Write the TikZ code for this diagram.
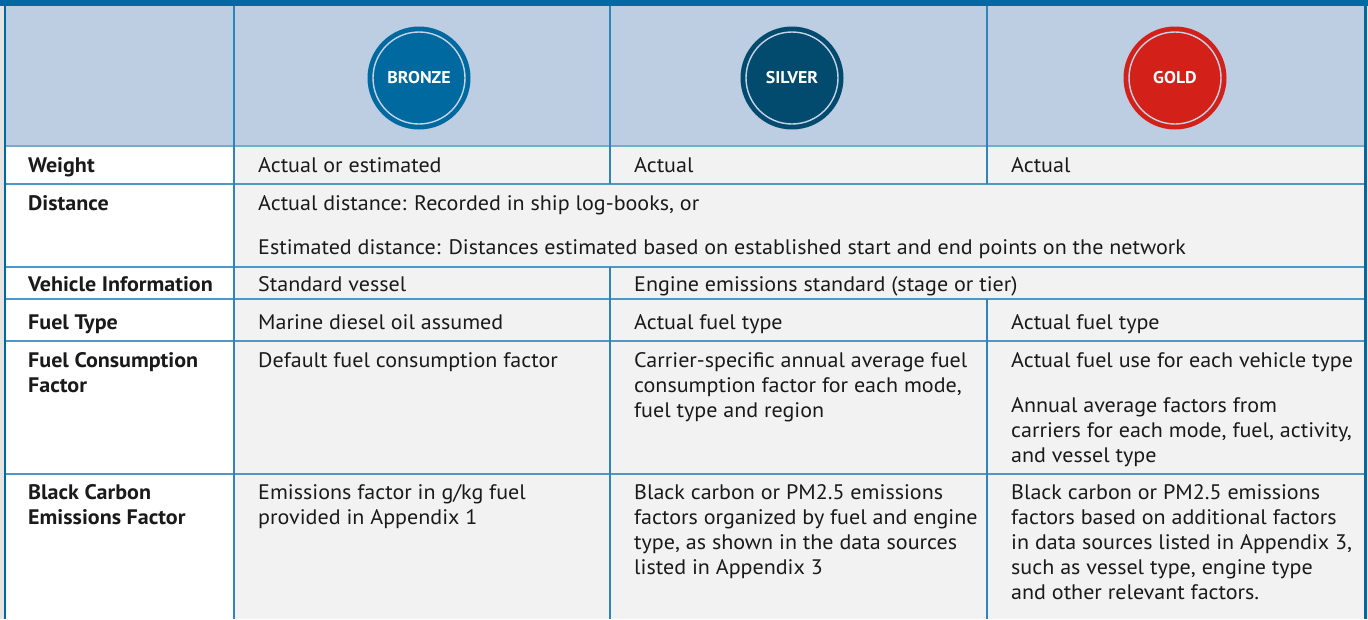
\documentclass[tikz,border=0pt]{standalone}
\usepackage{fontspec}
\setmainfont{PT Sans}[FakeStretch=1.05]
\definecolor{bronzec}{HTML}{0069A0}
\definecolor{silverc}{HTML}{024B6E}
\definecolor{goldc}{HTML}{D32119}
\definecolor{headc}{HTML}{BDCDE2}
\definecolor{cellc}{HTML}{F2F2F2}
\definecolor{vlinec}{HTML}{3084BC}
\definecolor{hlinec}{HTML}{4F97C6}
\definecolor{ringc}{HTML}{C5D3E6}
\definecolor{txtc}{HTML}{1A1A1A}
\definecolor{marginc}{HTML}{E4E4E4}
\newcommand{\mlines}[1]{\begin{tabular}[t]{@{}l@{}}#1\end{tabular}}
\begin{document}
\begin{tikzpicture}[x=1pt,y=-1pt,
  vl/.style={draw=vlinec, line width=1.2pt},
  hl/.style={draw=hlinec, line width=1.2pt},
  rowlab/.style={anchor=base west, inner sep=0pt, yshift=-1pt, font=\fontsize{21}{25.2}\selectfont\bfseries, text=txtc},
  celltxt/.style={anchor=base west, inner sep=0pt, yshift=-1pt, font=\fontsize{21}{25.2}\selectfont, text=txtc},
  medal/.style={circle, minimum size=103pt, inner sep=0pt, text=white, font=\fontsize{17}{17}\selectfont\bfseries},
  ring/.style={draw=ringc, line width=1.4pt}
]
\useasboundingbox (0,0) rectangle (1368,619);
\fill[marginc] (0,0) rectangle (1368,619);
% header
\fill[headc] (5,6) rectangle (1365,146);
\fill[bronzec] (0,0) rectangle (1368,6);
% cells
\fill[white] (5,146) rectangle (234,619);
\fill[cellc] (234,146) rectangle (1365,619);
% horizontal lines
\draw[draw=hlinec!80, line width=2pt] (5,146) -- (1365,146);
\foreach \yy in {184,267,299,341,474} \draw[hl] (5,\yy) -- (1365,\yy);
% vertical lines
\draw[vl] (234,6) -- (234,619);
\draw[vl] (610,6) -- (610,184);
\draw[vl] (610,267) -- (610,619);
\draw[vl] (987,6) -- (987,184);
\draw[vl] (987,299) -- (987,619);
% borders
\draw[draw=bronzec, line width=2pt] (5,0) -- (5,619);
\draw[draw=bronzec, line width=2.5pt] (1365.5,0) -- (1365.5,619);

% medals
\node[medal, fill=bronzec] (bronze) at (419,78) {BRONZE};
\draw[ring] (bronze.center) circle (46);
\node[medal, fill=silverc] (silver) at (792,78) {SILVER};
\draw[ring] (silver.center) circle (46);
\node[medal, fill=goldc] (gold) at (1175,78) {GOLD};
\draw[ring] (gold.center) circle (46);

% row labels
\node[rowlab] (l1) at (28,171) {Weight};
\node[rowlab] (l2) at (28,209) {Distance};
\node[rowlab] (l3) at (28,290) {Vehicle Information};
\node[rowlab] (l4) at (28,328) {Fuel Type};
\node[rowlab] (l5) at (28,366) {\mlines{Fuel Consumption\\Factor}};
\node[rowlab] (l6) at (28,498) {\mlines{Black Carbon\\Emissions Factor}};

% weight
\node[celltxt] (w1) at (258,171) {Actual or estimated};
\node[celltxt] (w2) at (634,171) {Actual};
\node[celltxt] (w3) at (1011,171) {Actual};
% distance
\node[celltxt] (d1) at (258,209) {Actual distance: Recorded in ship log-books, or};
\node[celltxt] (d2) at (258,253) {Estimated distance: Distances estimated based on established start and end points on the network};
% vehicle
\node[celltxt] (v1) at (258,290) {Standard vessel};
\node[celltxt] (v2) at (634,290) {Engine emissions standard (stage or tier)};
% fuel type
\node[celltxt] (f1) at (258,328) {Marine diesel oil assumed};
\node[celltxt] (f2) at (634,328) {Actual fuel type};
\node[celltxt] (f3) at (1011,328) {Actual fuel type};
% fuel consumption
\node[celltxt] (c1) at (258,366) {Default fuel consumption factor};
\node[celltxt] (c2) at (634,366) {\mlines{Carrier-specific annual average fuel\\consumption factor for each mode,\\fuel type and region}};
\node[celltxt] (c3) at (1011,366) {Actual fuel use for each vehicle type};
\node[celltxt] (c4) at (1011,411) {\mlines{Annual average factors from\\carriers for each mode, fuel, activity,\\and vessel type}};
% black carbon
\node[celltxt] (b1) at (258,498) {\mlines{Emissions factor in g/kg fuel\\provided in Appendix 1}};
\node[celltxt] (b2) at (634,498) {\mlines{Black carbon or PM2.5 emissions\\factors organized by fuel and engine\\type, as shown in the data sources\\listed in Appendix 3}};
\node[celltxt] (b3) at (1011,498) {\mlines{Black carbon or PM2.5 emissions\\factors based on additional factors\\in data sources listed in Appendix 3,\\such as vessel type, engine type\\and other relevant factors.}};
\end{tikzpicture}
\end{document}
